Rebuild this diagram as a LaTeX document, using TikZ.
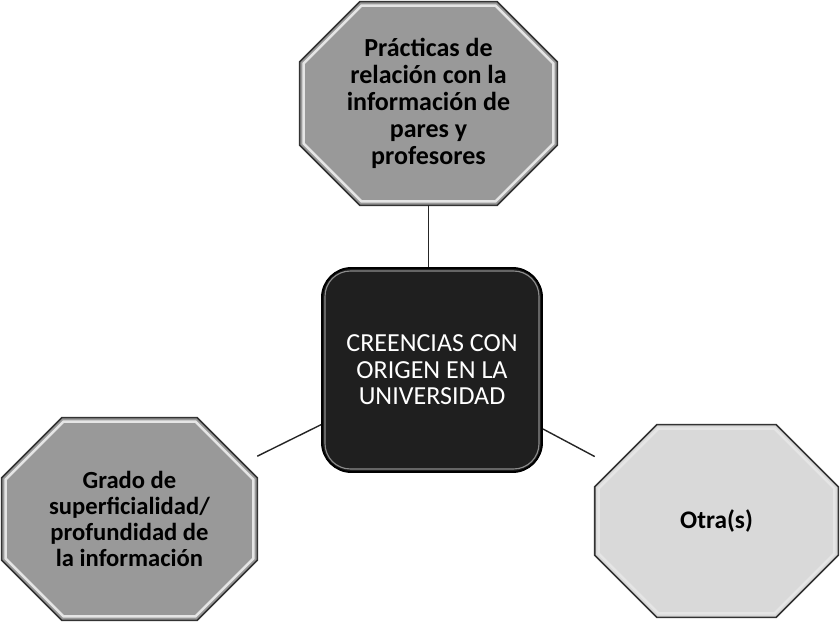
\documentclass[tikz,border=0pt]{standalone}
\usepackage{fontspec}
\setmainfont{Carlito}
\usetikzlibrary{calc,backgrounds}

% chamfered outline round a node, inset by #3
\newcommand{\octp}[3]{($(#1.north west)+(#2+0.414*#3,#3)$) -- ($(#1.north east)+(-#2-0.414*#3,#3)$)
  -- ($(#1.north east)+(-#3,#2+0.414*#3)$) -- ($(#1.south east)+(-#3,-#2-0.414*#3)$)
  -- ($(#1.south east)+(-#2-0.414*#3,-#3)$) -- ($(#1.south west)+(#2+0.414*#3,-#3)$)
  -- ($(#1.south west)+(#3,-#2-0.414*#3)$) -- ($(#1.north west)+(#3,#2+0.414*#3)$) -- cycle}

\begin{document}
\begin{tikzpicture}[x=0.025cm,y=-0.025cm]
  \tikzset{box/.style={align=center,inner sep=0pt,font=\fontsize{18.5}{19.2}\selectfont\bfseries}}
  \tikzset{octline/.style={draw=black!80,line width=1.1pt}}
  \tikzset{bevel/.style={draw=white!90!black,line width=1.8pt}}
  \tikzset{link/.style={draw=black!85,line width=1pt}}
  \useasboundingbox (0,0) rectangle (840,622);

  % nodes
  \node[box,minimum width=257*0.025cm,minimum height=203*0.025cm] (practicas) at (428.5,103.5)
    {Prácticas de\\relación con la\\información de\\pares y\\profesores};
  \node[box,text=white,font=\fontsize{18.5}{18.8}\selectfont,minimum width=220*0.025cm,minimum height=204*0.025cm,
    rounded corners=21pt,fill=black!88,draw=black,line width=1.4pt] (creencias) at (432,370)
    {CREENCIAS CON\\ORIGEN EN LA\\UNIVERSIDAD};
  \node[box,font=\fontsize{17.5}{18.3}\selectfont\bfseries,minimum width=255*0.025cm,minimum height=202*0.025cm]
    (grado) at (129.5,519) {Grado de\\superficialidad/\\profundidad de\\la información};
  \node[box,font=\fontsize{18}{19}\selectfont\bfseries,minimum width=243*0.025cm,minimum height=192*0.025cm]
    (otras) at (716.5,521) {Otra(s)};

  % octagons
  \begin{scope}[on background layer]
    \fill[black!40] \octp{practicas}{60}{0};
    \fill[black!40] \octp{grado}{60}{0};
    \fill[black!15] \octp{otras}{62}{0};
    \draw[bevel] \octp{practicas}{60}{4};
    \draw[bevel] \octp{grado}{60}{4};
    \draw[bevel] \octp{otras}{62}{4};
    \draw[octline] \octp{practicas}{60}{0};
    \draw[octline] \octp{grado}{60}{0};
    \draw[octline] \octp{otras}{62}{0};
  \end{scope}
  \draw[draw=black!45,line width=0.8pt,rounded corners=18pt]
    ($(creencias.north west)+(4,4)$) rectangle ($(creencias.south east)+(-4,-4)$);

  % links
  \draw[link] (practicas) -- (practicas |- creencias.north);
  \draw[link] (creencias) -- (grado);
  \draw[link] (creencias) -- (otras);
\end{tikzpicture}
\end{document}
